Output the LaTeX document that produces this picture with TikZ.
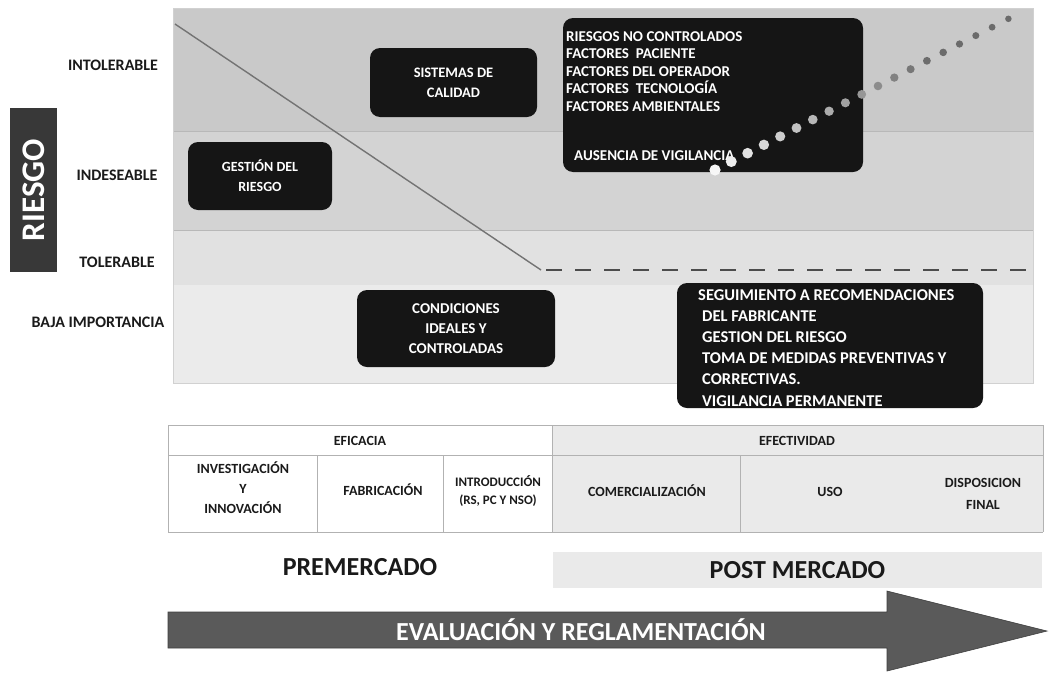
\documentclass[tikz,border=0pt]{standalone}
\usepackage{fontspec}
\setmainfont{Carlito}
\definecolor{bandA}{HTML}{C9C9C9}
\definecolor{bandB}{HTML}{D3D3D3}
\definecolor{bandC}{HTML}{E1E1E1}
\definecolor{bandD}{HTML}{EBEBEB}
\definecolor{boxblack}{HTML}{151515}
\definecolor{ink}{HTML}{1A1A1A}
\definecolor{arrowgray}{HTML}{5A5A5A}
\definecolor{tablegray}{HTML}{EAEAEA}
\begin{document}
\begin{tikzpicture}[x=1pt,y=-1pt,
  fs/.style n args={2}{font=\bfseries\fontsize{#1}{#2}\selectfont},
  blackbox/.style={fill=boxblack, rounded corners=10pt, inner sep=0pt, text=white, align=center},
  levellabel/.style={fs={16}{18}, text=ink, anchor=center},
  tabtext/.style={fs={14}{20}, text=ink, align=center},
  tabline/.style={draw=black!30, line width=0.6pt},
  bandline/.style={draw=black!28, line width=0.8pt}]
\useasboundingbox (0,0) rectangle (1049,672);
\fill[white] (0,0) rectangle (1049,672);

% ---- chart bands ----
\fill[bandA] (173,8) rectangle (1033,131);
\fill[bandB] (173,131) rectangle (1033,230);
\fill[bandC] (173,230) rectangle (1033,285);
\fill[bandD] (173,285) rectangle (1033,383);
\draw[bandline] (173,131) -- (1033,131);
\draw[bandline] (173,230) -- (1033,230);
\draw[draw=black!18, line width=0.5pt] (173,8) rectangle (1033,383);

% ---- left labels ----
\node[fill=black!78, minimum width=47pt, minimum height=164pt, inner sep=0pt] (riesgobox) at (33.5,190) {};
\node[rotate=90, fs={33}{36}, text=white] (riesgo) at (riesgobox.center) {RIESGO};
\node[levellabel] (intol) at (113,65) {INTOLERABLE};
\node[levellabel] (indes) at (117,175) {INDESEABLE};
\node[levellabel] (toler) at (117,262) {TOLERABLE};
\node[levellabel] (baja) at (98,322) {BAJA IMPORTANCIA};

% ---- risk lines ----
\coordinate (dstart) at (175,24);
\coordinate (dmid) at (541,270);
\coordinate (dend) at (1028,270);
\draw[black!55, line width=1.4pt] (dstart) -- (dmid);
\draw[black!70, line width=1.6pt, dash pattern=on 16pt off 13pt] ([xshift=5pt]dmid) -- (dend);

% ---- black boxes ----
\node[blackbox, minimum width=144pt, minimum height=68pt, fs={14}{20}] (gestion) at (260,176) {GESTIÓN DEL\\RIESGO};
\node[blackbox, minimum width=167pt, minimum height=69pt, fs={14.5}{20}] (sistemas) at (453.5,82.5) {SISTEMAS DE\\CALIDAD};
\node[blackbox, minimum width=300pt, minimum height=154pt] (riesgosbox) at (713,95) {};
\node[anchor=north west, inner sep=0pt, text=white, align=left, fs={15}{17.5}] (riesgostxt) at (566,31)
  {RIESGOS NO CONTROLADOS\\FACTORES\ \ PACIENTE\\FACTORES DEL OPERADOR\\FACTORES\ \ TECNOLOGÍA\\FACTORES AMBIENTALES};
\node[anchor=north west, inner sep=0pt, text=white, align=left, fs={15}{17.5}] (ausencia) at (574,150)
  {AUSENCIA DE VIGILANCIA};
\node[blackbox, minimum width=198pt, minimum height=77pt, fs={15}{20}] (condiciones) at (456,328.5) {CONDICIONES\\IDEALES Y\\CONTROLADAS};
\node[blackbox, minimum width=306pt, minimum height=125pt] (seguimbox) at (830,345.5) {};
\node[anchor=north west, inner sep=0pt, text=white, align=left, fs={16.5}{21.2}] (seguimtxt) at (698,289)
  {SEGUIMIENTO A RECOMENDACIONES\\\hspace*{4pt}DEL FABRICANTE\\\hspace*{4pt}GESTION DEL RIESGO\\\hspace*{4pt}TOMA DE MEDIDAS PREVENTIVAS Y\\\hspace*{4pt}CORRECTIVAS.\\\hspace*{4pt}VIGILANCIA PERMANENTE};

% ---- dotted rising curve ----
\foreach \i in {0,...,18}{
  \pgfmathsetmacro\px{715+\i*16.3}
  \pgfmathsetmacro\py{170-\i*8.4}
  \pgfmathsetmacro\q{min(58,3+\i*4.2)}
  \pgfmathsetmacro\r{5.6-\i*0.13}
  \fill[black!\q!white] (\px,\py) circle[radius=\r pt];
}

% ---- table ----
\fill[tablegray] (552,425) rectangle (1043,532);
\draw[tabline] (168,425) -- (1043,425);
\draw[tabline] (168,455) -- (1043,455);
\draw[tabline] (168,532) -- (1043,532);
\draw[tabline] (168,425) -- (168,532);
\draw[tabline] (317,455) -- (317,532);
\draw[tabline] (443,455) -- (443,532);
\draw[tabline] (552,425) -- (552,532);
\draw[tabline] (740,455) -- (740,532);
\draw[tabline] (1043,425) -- (1043,532);
\node[tabtext, fs={14}{18}] (eficacia) at (360,441) {EFICACIA};
\node[tabtext, fs={14}{18}] (efectividad) at (797,441) {EFECTIVIDAD};
\node[tabtext] (investig) at (243,488) {INVESTIGACIÓN\\Y\\INNOVACIÓN};
\node[tabtext] (fabric) at (383,490) {FABRICACIÓN};
\node[tabtext, fs={13}{18}] (introd) at (498,491) {INTRODUCCIÓN\\(RS, PC Y NSO)};
\node[tabtext] (comerc) at (647,491) {COMERCIALIZACIÓN};
\node[tabtext] (uso) at (830,492) {USO};
\node[tabtext, fs={14}{22}] (dispos) at (983,494) {DISPOSICION\\FINAL};

% ---- market phases ----
\node[fs={26}{30}, text=ink] (premercado) at (360,567) {PREMERCADO};
\node[fill=tablegray, minimum width=489pt, minimum height=36pt, inner sep=0pt] (postband) at (797.5,570) {};
\node[fs={26}{30}, text=ink] (postmercado) at (postband.center) {POST MERCADO};

% ---- big arrow ----
\fill[arrowgray, draw=black!75, line width=0.6pt]
  (168,612) -- (887,612) -- (887,591) -- (1047,631) -- (887,671) -- (887,648) -- (168,648) -- cycle;
\node[fs={26}{30}, text=white] (evaluacion) at (581,630) {EVALUACIÓN Y REGLAMENTACIÓN};
\end{tikzpicture}
\end{document}
